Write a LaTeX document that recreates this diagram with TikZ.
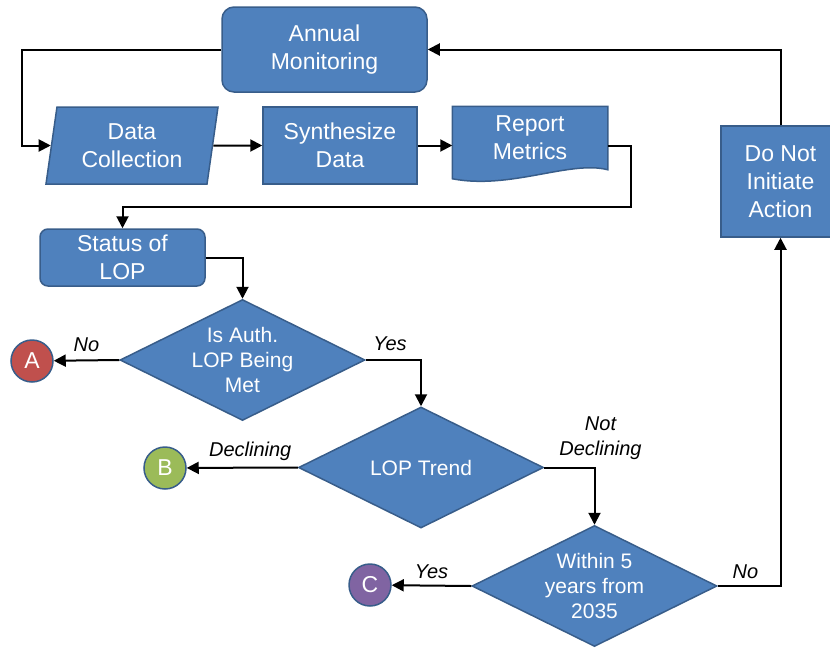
\documentclass[tikz,border=0pt]{standalone}
\usepackage{fontspec}
\setmainfont{Liberation Sans}
\usetikzlibrary{shapes.geometric,arrows.meta,backgrounds}
\definecolor{boxblue}{RGB}{79,129,189}
\definecolor{edgeblue}{RGB}{56,93,138}
\definecolor{darkred}{RGB}{192,80,77}
\definecolor{darkgreen}{RGB}{155,187,89}
\definecolor{darkpurple}{RGB}{128,100,162}
\tikzset{
  >={Triangle[length=12pt,width=12pt]},
  box/.style={draw=edgeblue,fill=boxblue,line width=1.5pt,text=white,align=center,
    inner sep=0pt,font=\fontsize{23}{28}\selectfont},
  decision/.style={box,diamond,shape aspect=2,minimum width=245pt,minimum height=121pt,
    font=\fontsize{21}{25}\selectfont},
  connector/.style={circle,draw=edgeblue,line width=1.5pt,text=white,minimum size=42pt,
    inner sep=0pt,font=\fontsize{23}{28}\selectfont},
  lbl/.style={font=\fontsize{20}{25}\selectfont\itshape,align=center},
  flow/.style={->,line width=2pt}
}
\begin{document}
\begin{tikzpicture}[x=1pt,y=-1pt]
\useasboundingbox (0,0) rectangle (830,648);

\node[box,rounded corners=12pt,minimum width=205pt,minimum height=85pt] (annual) at (324.5,49.5) {Annual\\Monitoring};
\node[box,trapezium,trapezium left angle=76,trapezium right angle=104,trapezium stretches body,
  minimum width=172pt,minimum height=77pt] (datacol) at (132,145.5) {Data\\Collection};
\node[box,minimum width=154pt,minimum height=77pt] (synth) at (340,145.5) {Synthesize\\Data};
\node[box,draw=none,fill=none,minimum width=154pt,minimum height=62pt] (report) at (530,138) {Report\\Metrics};
\begin{scope}[on background layer]
\draw[draw=edgeblue,fill=boxblue,line width=1.5pt] (report.north west) -- (report.north east) -- (report.south east)
  .. controls (570,160) and (510,190) .. ([yshift=-9pt]report.south west) -- cycle;
\end{scope}
\node[box,rounded corners=8pt,minimum width=165pt,minimum height=57pt] (status) at (122.5,257.5) {Status of\\LOP};
\node[box,minimum width=119pt,minimum height=111pt] (donot) at (780.5,181.5) {Do Not\\Initiate\\Action};

\node[decision] (isauth) at (242.5,360) {Is Auth.\\LOP Being\\Met};
\node[decision] (trend) at (421,467.5) {LOP Trend};
\node[decision] (within) at (594.5,586) {Within 5\\years from\\2035};

\node[connector,fill=darkred] (A) at (32,361) {A};
\node[connector,fill=darkgreen] (B) at (165,468) {B};
\node[connector,fill=darkpurple] (C) at (370,585) {C};

% main loop
\draw[flow] (annual.west) -- ++(-199,0) |- (datacol.west);
\draw[flow] (datacol.east) -- (synth.west);
\draw[flow] (synth.east) -- (synth.east -| report.west);
\draw[flow] ([yshift=-8pt]report.east) -| ++(23,61) -| (status.north);
\draw[flow] (status.east) -| (isauth.north);

% decisions
\draw[flow] (isauth.west) -- node[lbl,above=4pt] {No} (A);
\draw[flow] (isauth.east) -| node[lbl,above=5pt,pos=0.22] {Yes} (trend.north);
\draw[flow] (trend.west) -- node[lbl,above=3pt,xshift=8pt] {Declining} (B);
\draw[flow] (trend.east) -| node[lbl,pos=0.5,anchor=south,xshift=6pt,yshift=4pt] {Not\\Declining} (within.north);
\draw[flow] (within.west) -- node[lbl,above=3pt] {Yes} (C);
\draw[flow] (within.east) -| node[lbl,above=3pt,pos=0.22] {No} (donot.south);
\draw[flow] (donot.north) |- (annual.east);
\end{tikzpicture}
\end{document}
